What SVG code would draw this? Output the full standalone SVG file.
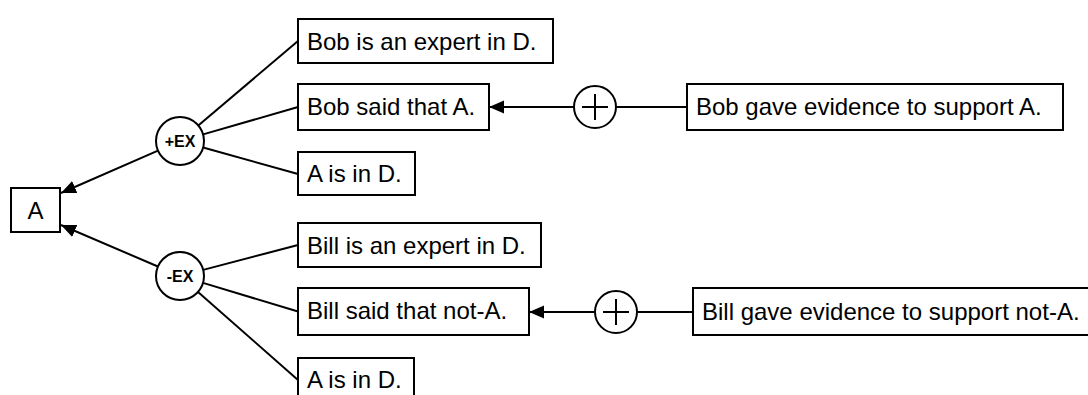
<svg xmlns="http://www.w3.org/2000/svg" width="1088" height="395" viewBox="0 0 1088 395">
<style>
.box{fill:#fff;stroke:#000;stroke-width:2}
.t{font-family:"Liberation Sans",Arial,sans-serif;font-size:24px;fill:#000}
.c{fill:#fff;stroke:#000;stroke-width:2}
.ct{font-family:"Liberation Sans",Arial,sans-serif;font-size:16px;font-weight:bold;fill:#000;text-anchor:middle}
.ln{stroke:#000;stroke-width:2;fill:none}
</style>
<defs>
<marker id="arr" markerUnits="userSpaceOnUse" markerWidth="16" markerHeight="14" refX="15" refY="6.5" orient="auto">
<path d="M0,0 L15,6.5 L0,13 z" fill="#000"/>
</marker>
</defs>
<rect width="1088" height="395" fill="#fff"/>
<g id="connectors">
<line class="ln" x1="158" y1="150.6" x2="61" y2="193" marker-end="url(#arr)"/>
<line class="ln" x1="157.9" y1="266.5" x2="61" y2="225" marker-end="url(#arr)"/>
<line class="ln" x1="198.3" y1="125.5" x2="298" y2="41"/>
<line class="ln" x1="203.1" y1="134.4" x2="298" y2="107"/>
<line class="ln" x1="203.1" y1="147.5" x2="298" y2="174"/>
<line class="ln" x1="203.2" y1="269.9" x2="298" y2="245"/>
<line class="ln" x1="203" y1="282.9" x2="298" y2="311.5"/>
<line class="ln" x1="198" y1="291.9" x2="298" y2="380"/>
<line class="ln" x1="616" y1="107" x2="687" y2="107"/>
<line class="ln" x1="574" y1="107" x2="489" y2="107" marker-end="url(#arr)"/>
<line class="ln" x1="637" y1="312" x2="693" y2="312"/>
<line class="ln" x1="595" y1="312" x2="529" y2="312" marker-end="url(#arr)"/>
</g>
<g id="nodeA"><rect class="box" x="11" y="188" width="49" height="44"/><text class="t" x="35.5" y="219" text-anchor="middle">A</text></g>
<g id="plusEX"><circle class="c" cx="180" cy="141" r="24"/><text class="ct" x="180" y="147">+EX</text></g>
<g id="minusEX"><circle class="c" cx="180" cy="276" r="24"/><text class="ct" x="180" y="282">-EX</text></g>
<g id="bobExpert"><rect class="box" x="298" y="19" width="255" height="44"/><text class="t" x="307" y="50">Bob is an expert in D.</text></g>
<g id="bobSaid"><rect class="box" x="298" y="84" width="191" height="46"/><text class="t" x="307" y="115">Bob said that A.</text></g>
<g id="aInD1"><rect class="box" x="298" y="152" width="117" height="43"/><text class="t" x="307" y="182">A is in D.</text></g>
<g id="billExpert"><rect class="box" x="298" y="223" width="243" height="44"/><text class="t" x="307" y="254">Bill is an expert in D.</text></g>
<g id="billSaid"><rect class="box" x="298" y="288" width="231" height="47"/><text class="t" x="307" y="319">Bill said that not-A.</text></g>
<g id="aInD2"><rect class="box" x="298" y="358" width="116" height="44"/><text class="t" x="307" y="388">A is in D.</text></g>
<g id="plus1"><circle class="c" cx="595" cy="107" r="21"/><path class="ln" d="M582,107 H608 M595,94 V120"/></g>
<g id="plus2"><circle class="c" cx="616" cy="312" r="21"/><path class="ln" d="M603,312 H629 M616,299 V325"/></g>
<g id="bobEvidence"><rect class="box" x="687" y="84" width="376" height="46"/><text class="t" x="696" y="115">Bob gave evidence to support A.</text></g>
<g id="billEvidence"><rect class="box" x="693" y="288" width="405" height="47"/><text class="t" x="702" y="320">Bill gave evidence to support not-A.</text></g>
</svg>
